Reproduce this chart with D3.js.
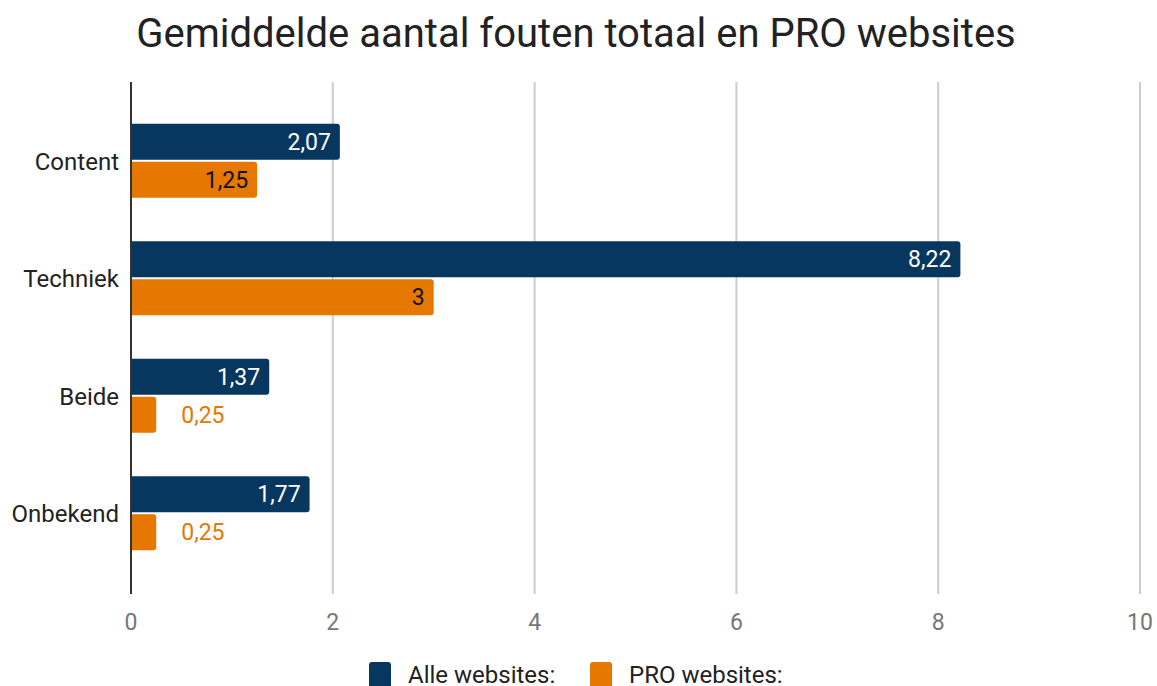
<!DOCTYPE html>
<html><head><meta charset="utf-8">
<script src="https://cdn.jsdelivr.net/npm/d3@7"></script>
<style>body{margin:0;background:#fff}svg{display:block;font-family:Roboto,sans-serif}</style>
</head><body><svg id="c" width="1157" height="686"></svg>
<script>
const categories = ["Content","Techniek","Beide","Onbekend"];
const alleValues = [2.07, 8.22, 1.37, 1.77];
const proValues = [1.25, 3, 0.25, 0.25];
const seriesNames = ["Alle websites:","PRO websites:"];
const xTicks = [0,2,4,6,8,10];
const title = "Gemiddelde aantal fouten totaal en PRO websites";

const navy = "#07365f", orange = "#e67700";
const svg = d3.select("#c");
const x = d3.scaleLinear().domain([0,10]).range([131,1140]);
const y = d3.scaleBand().domain(categories).range([102,572]);
const fmt = v => String(v).replace(".", ",");

svg.append("text").attr("x",576).attr("y",47).attr("text-anchor","middle")
  .attr("font-size",40).attr("fill","#222").text(title);

// gridlines
svg.append("g").selectAll("line").data(xTicks.slice(1)).join("line")
  .attr("x1",d=>x(d)).attr("x2",d=>x(d)).attr("y1",82).attr("y2",594)
  .attr("stroke","#ccc").attr("stroke-width",2);

// tick labels
svg.append("g").selectAll("text").data(xTicks).join("text")
  .attr("x",d=>x(d)).attr("y",630).attr("text-anchor","middle")
  .attr("font-size",23).attr("fill","#777").text(d=>d);

// category labels
svg.append("g").selectAll("text").data(categories).join("text")
  .attr("x",119).attr("y",d=>y(d)+y.bandwidth()/2+9).attr("text-anchor","end")
  .attr("font-size",24).attr("fill","#222").text(d=>d);

function roundedRight(x0, y0, w, h, r){
  r = Math.min(r, w, h/2);
  return `M${x0},${y0}H${x0+w-r}Q${x0+w},${y0} ${x0+w},${y0+r}V${y0+h-r}Q${x0+w},${y0+h} ${x0+w-r},${y0+h}H${x0}Z`;
}
const barH = 36, gap = 2;
const series = [
  {vals: alleValues, color: navy, off: -barH - gap/2, inColor: "#fff"},
  {vals: proValues, color: orange, off: gap/2, inColor: "#111"}
];
series.forEach(s => {
  const g = svg.append("g");
  categories.forEach((c,i) => {
    const v = s.vals[i];
    const cy = y(c) + y.bandwidth()/2;
    const y0 = cy + s.off;
    const w = x(v) - x(0);
    g.append("path").attr("d", roundedRight(x(0), y0, w, barH, 3)).attr("fill", s.color);
    const inside = w > 60;
    g.append("text")
      .attr("x", inside ? x(v) - 9 : x(v) + 25)
      .attr("y", y0 + barH/2 + 8)
      .attr("text-anchor", inside ? "end" : "start")
      .attr("font-size", 23)
      .attr("fill", inside ? s.inColor : s.color)
      .text(fmt(v));
  });
});

// baseline axis
svg.append("line").attr("x1",x(0)).attr("x2",x(0)).attr("y1",82).attr("y2",594)
  .attr("stroke","#333").attr("stroke-width",2);

// legend
const legend = [{name: seriesNames[0], color: navy, x: 369},{name: seriesNames[1], color: orange, x: 590}];
legend.forEach(l => {
  svg.append("rect").attr("x",l.x).attr("y",662).attr("width",22).attr("height",30).attr("rx",3).attr("fill",l.color);
  svg.append("text").attr("x",l.x+39).attr("y",683).attr("font-size",24).attr("fill","#222").text(l.name);
});
</script></body></html>
